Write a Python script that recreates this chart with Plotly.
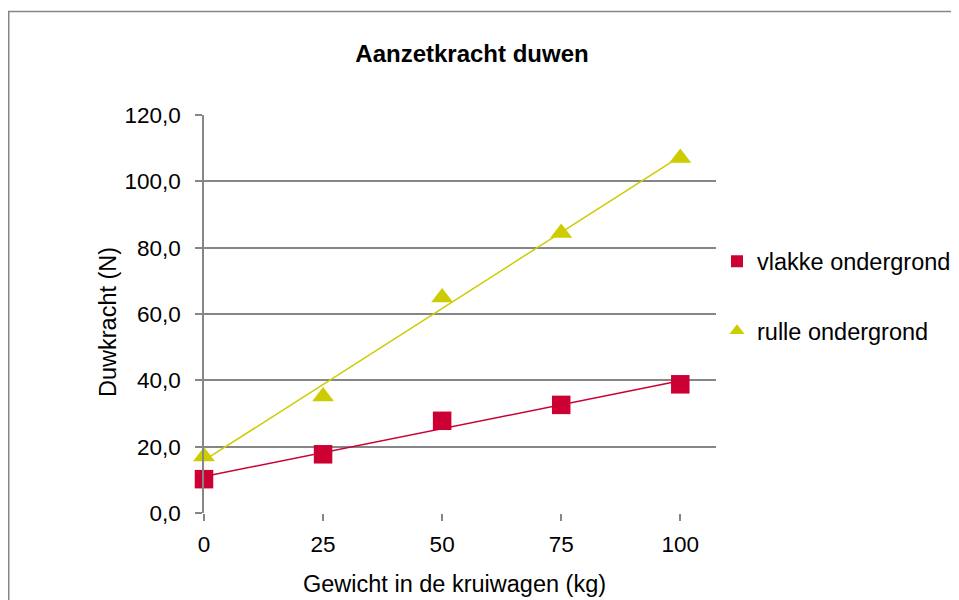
import numpy as np
import plotly.graph_objects as go

gewicht = [0, 25, 50, 75, 100]
vlakke = [10.2, 17.7, 27.8, 32.6, 38.8]
rulle = [17.0, 35.1, 65.0, 84.4, 107.0]
y_ticks = [0, 20, 40, 60, 80, 100, 120]
y_tick_labels = ["0,0", "20,0", "40,0", "60,0", "80,0", "100,0", "120,0"]
x_ticks = [0, 25, 50, 75, 100]
series_names = ["vlakke ondergrond", "rulle ondergrond"]

red = "#CC0033"
yellow = "#CCCC00"
grid = "#868686"
font_family = "Liberation Sans, Arial, sans-serif"

# page body has an 8px margin -> figure is drawn at (8, 8)
OFF = 8
W, H = 959 - OFF, 600 - OFF
PL, PR, PT, PB = 204, 716, 115, 513  # plot area in screen pixels
pw, ph = PR - PL, PB - PT


def px(x):
    return (x - PL) / pw


def py(y):
    return (PB - y) / ph


fig = go.Figure()

xs = np.array(gewicht, dtype=float)
for vals, col in [(vlakke, red), (rulle, yellow)]:
    m, b = np.polyfit(xs, np.array(vals), 1)
    xl = [xs.min(), xs.max()]
    fig.add_trace(go.Scatter(x=xl, y=[m * v + b for v in xl], mode="lines",
                             line=dict(color=col, width=1.5), showlegend=False,
                             hoverinfo="skip"))

fig.add_trace(go.Scatter(x=gewicht, y=vlakke, mode="markers", showlegend=False,
                         cliponaxis=False,
                         marker=dict(symbol="square", size=18.5, color=red)))
fig.add_trace(go.Scatter(x=gewicht, y=rulle, mode="markers", showlegend=False,
                         cliponaxis=False,
                         marker=dict(symbol="triangle-up", size=19, color=yellow)))

# legend entries (smaller symbols, as in the reference)
fig.add_trace(go.Scatter(x=[None], y=[None], mode="markers", name=series_names[0],
                         legendgroup="a", marker=dict(symbol="square", size=12, color=red)))
fig.add_trace(go.Scatter(x=[None], y=[None], mode="markers", name=series_names[1],
                         legendgroup="b", marker=dict(symbol="triangle-up", size=13, color=yellow)))

fig.update_layout(
    width=W, height=H,
    margin=dict(l=PL - OFF, r=W - (PR - OFF), t=PT - OFF, b=H - (PB - OFF),
                autoexpand=False),
    paper_bgcolor="white", plot_bgcolor="white",
    font=dict(family=font_family, size=22.5, color="black"),
    title=dict(text="<b>Aanzetkracht duwen</b>", x=(472 - OFF) / W, xanchor="center",
               y=1 - (54 - OFF) / H, yanchor="middle", font=dict(size=24)),
    showlegend=True,
    legend=dict(x=px(717), y=py(296.5), xanchor="left", yanchor="middle",
                tracegroupgap=36, itemwidth=30, font=dict(size=23.5),
                bgcolor="rgba(0,0,0,0)"),
    xaxis=dict(range=[0, 107.5], tickvals=x_ticks, ticks="outside", ticklen=7,
               tickcolor=grid, tickwidth=1.5, showgrid=False, zeroline=False,
               showline=False, ticklabelstandoff=4),
    yaxis=dict(range=[0, 120], tickvals=y_ticks, ticktext=y_tick_labels,
               ticks="outside", ticklen=7, tickcolor=grid, tickwidth=1.5,
               ticklabelstandoff=10,
               showgrid=True, gridcolor=grid, gridwidth=1.5,
               zeroline=False, showline=True, linecolor=grid, linewidth=1.5),
    annotations=[
        dict(text="Gewicht in de kruiwagen (kg)", xref="paper", yref="paper",
             x=px(454), y=py(584), xanchor="center", yanchor="middle",
             showarrow=False, font=dict(size=23.5)),
        dict(text="Duwkracht (N)", xref="paper", yref="paper",
             x=px(108), y=py(322), xanchor="center", yanchor="middle",
             textangle=-90, showarrow=False, font=dict(size=23.5)),
    ],
    shapes=[dict(type="rect", xref="paper", yref="paper",
                 x0=px(8.75), x1=px(1000),
                 y0=py(700), y1=py(11.5),
                 line=dict(color=grid, width=1.5), fillcolor="rgba(0,0,0,0)",
                 layer="below")],
)

fig.write_html("out.html")
